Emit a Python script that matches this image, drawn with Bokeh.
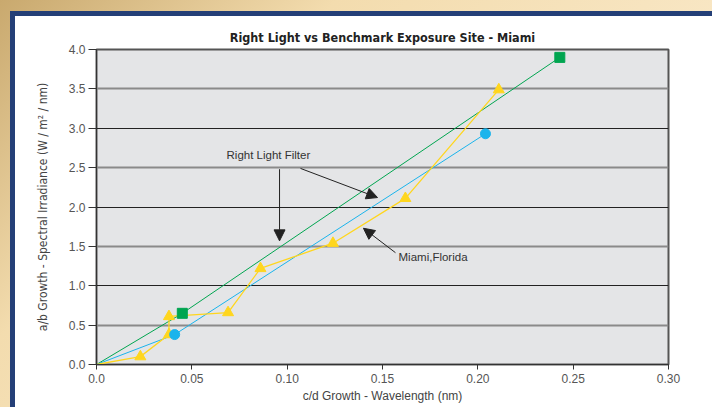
from bokeh.plotting import figure
from bokeh.embed import file_html
from bokeh.resources import INLINE
from bokeh.layouts import column
from bokeh.models import (FixedTicker, Grid, Arrow, NormalHead, Label,
                          NumeralTickFormatter)

# ---- data ----
filter_x = [0.0, 0.045, 0.243]
filter_y = [0.0, 0.65, 3.90]

blue_x = [0.0, 0.041, 0.204]
blue_y = [0.0, 0.38, 2.93]

miami_x = [0.0, 0.023, 0.038, 0.038, 0.069, 0.086, 0.124, 0.162, 0.211]
miami_y = [0.0, 0.10, 0.38, 0.61, 0.66, 1.22, 1.54, 2.11, 3.49]

x_ticks = [0.0, 0.05, 0.10, 0.15, 0.20, 0.25, 0.30]
x_tick_labels = ["0.0", "0.05", "0.10", "0.15", "0.20", "0.25", "0.30"]
y_ticks = [0.0, 0.5, 1.0, 1.5, 2.0, 2.5, 3.0, 3.5, 4.0]

GREEN = "#00a550"
BLUE = "#1ab4ec"
YELLOW = "#ffd61e"
NARROW = "'Liberation Sans Narrow', 'DejaVu Sans Condensed', 'Roboto Condensed', sans-serif"
SANS = "'Liberation Sans', Arial, sans-serif"

p = figure(width=697, height=391, x_range=(0, 0.3), y_range=(0, 4),
           output_backend="svg", toolbar_location=None,
           min_border_left=81, min_border_top=33, min_border_right=44,
           min_border_bottom=43,
           background_fill_color="#e4e5e7", border_fill_color="white",
           title="Right Light vs Benchmark Exposure Site - Miami")

p.title.align = "center"
p.title.text_font = NARROW
p.title.text_font_size = "12.5px"
p.title.text_font_style = "bold"
p.title.text_color = "#222222"

p.outline_line_color = "#555555"
p.outline_line_width = 2

# axes
p.xaxis.ticker = FixedTicker(ticks=x_ticks)
p.xaxis.major_label_overrides = {t: l for t, l in zip(x_ticks, x_tick_labels)}
p.yaxis.ticker = FixedTicker(ticks=y_ticks)
p.yaxis.formatter = NumeralTickFormatter(format="0.0")
for ax in (p.xaxis, p.yaxis):
    ax.minor_tick_line_color = None
    ax.major_tick_in = 0
    ax.axis_line_color = "#333333"
    ax.major_tick_line_color = "#333333"
    ax.major_label_text_font = SANS
    ax.major_label_text_font_size = "12px"
    ax.major_label_text_color = "#555555"
    ax.axis_label_text_font = NARROW
    ax.axis_label_text_font_size = "12px"
    ax.axis_label_text_font_style = "normal"
    ax.axis_label_text_color = "#444444"
p.xaxis.major_tick_out = 5
p.yaxis.major_tick_out = 8
p.xaxis.major_label_standoff = 4
p.yaxis.major_label_standoff = 3
p.xaxis.axis_label = "c/d Growth - Wavelength (nm)"
p.xaxis.axis_label_text_font = SANS
p.xaxis.axis_label_standoff = 3
p.yaxis.axis_label = "a/b Growth - Spectral Irradiance (W / m\u00b2 / nm)"
p.yaxis.axis_label_standoff = 16

# grids
p.xgrid.grid_line_color = None
p.ygrid.ticker = FixedTicker(ticks=[1.0, 2.0, 3.0])
p.ygrid.grid_line_color = "#222222"
p.ygrid.grid_line_width = 1
half_grid = Grid(dimension=1, ticker=FixedTicker(ticks=[0.5, 1.5, 2.5, 3.5]),
                 grid_line_color="#8a8a8a", grid_line_width=2)
p.add_layout(half_grid)

# series
p.line(filter_x, filter_y, color=GREEN, line_width=1)
p.line(blue_x, blue_y, color=BLUE, line_width=1)
p.line(miami_x, miami_y, color=YELLOW, line_width=1.3)
p.scatter(miami_x[1:], miami_y[1:], marker="triangle", size=11,
          fill_color=YELLOW, line_color=YELLOW)
p.scatter(blue_x[1:], blue_y[1:], marker="circle", size=10,
          fill_color=BLUE, line_color=BLUE)
p.scatter(filter_x[1:], filter_y[1:], marker="square", size=10,
          fill_color=GREEN, line_color=GREEN)

# annotations
def arrow(x0, y0, x1, y1):
    p.add_layout(Arrow(end=NormalHead(size=11, fill_color="#222222",
                                      line_color="#222222"),
                       x_start=x0, y_start=y0, x_end=x1, y_end=y1,
                       line_color="#222222", line_width=1))

arrow(0.096, 2.48, 0.096, 1.57)
arrow(0.107, 2.49, 0.1474, 2.12)
arrow(0.1568, 1.42, 0.140, 1.73)

p.add_layout(Label(x=0.0682, y=2.654, text="Right Light Filter",
                   text_baseline="middle", text_font=SANS,
                   text_font_size="11.5px", text_color="#333333"))
p.add_layout(Label(x=0.1584, y=1.36, text="Miami,Florida",
                   text_baseline="middle", text_font=SANS,
                   text_font_size="11.5px", text_color="#333333"))

inner = column(p, styles={"border-left": "5px solid #243f77",
                          "border-top": "5px solid #243f77",
                          "background-color": "white"})
outer = column(inner, styles={"padding-left": "10px", "padding-top": "11px",
                              "background": "linear-gradient(135deg, #c9a96e 0%, #f3dcae 30%, #fdf0d8 100%)"})

open("out.html", "w").write(file_html(outer, INLINE))
